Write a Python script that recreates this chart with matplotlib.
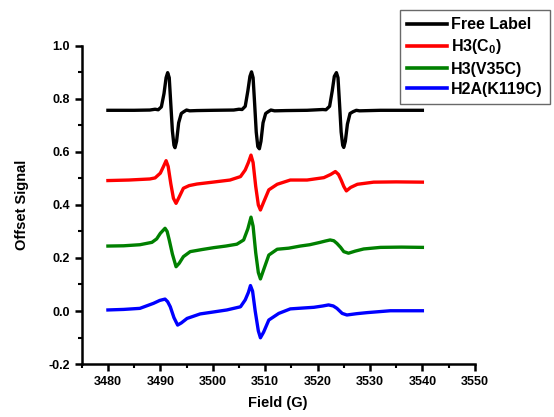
import matplotlib

matplotlib.use("Agg")
import matplotlib.pyplot as plt
from matplotlib.ticker import MultipleLocator

plt.rcParams["font.family"] = ["Liberation Sans", "DejaVu Sans"]
plt.rcParams["font.weight"] = "bold"
plt.rcParams["axes.unicode_minus"] = False
plt.rcParams["mathtext.fontset"] = "custom"
plt.rcParams["mathtext.bf"] = "Liberation Sans:bold"
plt.rcParams["mathtext.rm"] = "Liberation Sans:bold"
plt.rcParams["mathtext.default"] = "bf"

# values
free_field = [3480.0, 3485.0, 3488.0, 3489.0, 3489.6, 3490.2, 3490.7, 3491.1, 3491.4, 3491.7,
              3492.0, 3492.3, 3492.6, 3492.8, 3493.1, 3493.5, 3494.0, 3494.5, 3495.0, 3495.6,
              3497.0, 3500.0, 3504.0, 3505.0, 3505.6, 3506.2, 3506.7, 3507.1, 3507.4, 3507.7,
              3508.0, 3508.3, 3508.6, 3508.9, 3509.2, 3509.6, 3510.1, 3510.6, 3511.1, 3511.8,
              3514.0, 3518.0, 3521.0, 3521.6, 3522.3, 3522.8, 3523.2, 3523.6, 3523.9, 3524.2,
              3524.5, 3524.8, 3525.0, 3525.3, 3525.7, 3526.2, 3526.8, 3527.4, 3528.0, 3532.0,
              3540.0]
free_signal = [0.757, 0.757, 0.758, 0.761, 0.759, 0.770, 0.820, 0.880, 0.899, 0.880,
               0.780, 0.680, 0.625, 0.616, 0.640, 0.710, 0.745, 0.752, 0.758, 0.755,
               0.756, 0.757, 0.758, 0.761, 0.760, 0.772, 0.830, 0.885, 0.902, 0.880,
               0.780, 0.675, 0.620, 0.612, 0.640, 0.710, 0.745, 0.752, 0.758, 0.755,
               0.756, 0.757, 0.760, 0.759, 0.772, 0.830, 0.885, 0.899, 0.880, 0.780,
               0.675, 0.625, 0.617, 0.640, 0.705, 0.745, 0.752, 0.757, 0.755, 0.757,
               0.757]

c0_field = [3480.0, 3484.0, 3488.0, 3489.0, 3490.0, 3490.6, 3491.1, 3491.5, 3492.0, 3492.5,
            3493.0, 3493.6, 3494.4, 3495.5, 3497.0, 3500.0, 3503.3, 3505.3, 3506.2, 3506.8,
            3507.3, 3507.7, 3508.2, 3508.7, 3509.1, 3509.7, 3510.7, 3512.3, 3514.8, 3518.0,
            3521.2, 3522.5, 3523.4, 3524.0, 3524.5, 3525.0, 3525.5, 3526.3, 3527.6, 3530.7,
            3535.0, 3540.0]
c0_signal = [0.492, 0.494, 0.498, 0.502, 0.520, 0.545, 0.567, 0.545, 0.480, 0.425,
             0.406, 0.430, 0.463, 0.473, 0.479, 0.486, 0.494, 0.507, 0.532, 0.560,
             0.588, 0.560, 0.470, 0.400, 0.381, 0.410, 0.457, 0.478, 0.494, 0.494,
             0.503, 0.515, 0.526, 0.515, 0.494, 0.470, 0.453, 0.466, 0.478, 0.486,
             0.487, 0.486]

v35c_field = [3480.0, 3483.0, 3486.1, 3488.4, 3489.3, 3490.0, 3490.9, 3491.3, 3491.7, 3492.3,
              3493.0, 3493.6, 3494.4, 3495.7, 3498.0, 3500.2, 3502.5, 3504.6, 3505.9, 3506.7,
              3507.3, 3507.7, 3508.2, 3508.7, 3509.1, 3509.7, 3510.7, 3512.3, 3514.5, 3516.7,
              3518.5, 3520.5, 3521.5, 3522.4, 3523.1, 3523.7, 3524.4, 3525.0, 3525.9, 3527.2,
              3528.8, 3532.0, 3536.0, 3540.0]
v35c_signal = [0.245, 0.246, 0.250, 0.259, 0.272, 0.293, 0.312, 0.300, 0.268, 0.215,
               0.167, 0.180, 0.205, 0.224, 0.232, 0.239, 0.245, 0.252, 0.268, 0.310,
               0.354, 0.320, 0.220, 0.145, 0.121, 0.155, 0.211, 0.233, 0.237, 0.245,
               0.250, 0.259, 0.264, 0.268, 0.265, 0.255, 0.240, 0.224, 0.218, 0.226,
               0.234, 0.240, 0.241, 0.240]

k119c_field = [3480.0, 3483.0, 3486.1, 3488.7, 3489.9, 3490.9, 3491.4, 3491.9, 3492.6, 3493.3,
               3494.0, 3495.1, 3497.6, 3500.0, 3502.7, 3505.3, 3506.2, 3506.8, 3507.2, 3507.6,
               3508.1, 3508.7, 3509.1, 3509.7, 3510.7, 3512.6, 3514.8, 3517.0, 3519.3, 3521.0,
               3522.1, 3523.0, 3523.7, 3524.7, 3525.6, 3527.5, 3529.5, 3533.9, 3537.0, 3540.0]
k119c_signal = [0.004, 0.006, 0.010, 0.029, 0.040, 0.045, 0.035, 0.016, -0.025, -0.053,
                -0.045, -0.028, -0.011, -0.004, 0.004, 0.016, 0.042, 0.070, 0.096, 0.075,
                0.000, -0.075, -0.101, -0.080, -0.034, -0.009, 0.008, 0.011, 0.014, 0.019,
                0.023, 0.019, 0.010, -0.009, -0.015, -0.010, -0.006, 0.001, 0.001, 0.001]

series_labels = ["Free Label", "H3(C$_{0}$)", "H3(V35C)", "H2A(K119C)"]
series_colors = ["black", "red", "green", "blue"]

fig = plt.figure(figsize=(5.54, 4.17), dpi=100)
ax = fig.add_axes([0.1475, 0.127, 0.7095, 0.763])

for field, signal, label, color in zip(
    [free_field, c0_field, v35c_field, k119c_field],
    [free_signal, c0_signal, v35c_signal, k119c_signal],
    series_labels,
    series_colors,
):
    ax.plot(field, signal, color=color, linewidth=2.4, label=label)

ax.set_xlim(3475, 3550)
ax.set_ylim(-0.2, 1.0)
ax.set_xticks(range(3480, 3551, 10))
ax.xaxis.set_minor_locator(MultipleLocator(5))
ax.yaxis.set_major_locator(MultipleLocator(0.2))
ax.yaxis.set_minor_locator(MultipleLocator(0.1))
ax.yaxis.set_major_formatter(plt.FormatStrFormatter("%.1f"))
ax.spines["top"].set_visible(False)
ax.spines["right"].set_visible(False)
ax.spines["left"].set_linewidth(1.8)
ax.spines["bottom"].set_linewidth(1.8)
ax.tick_params(which="major", length=5, width=1.8, labelsize=9, direction="out")
ax.tick_params(which="minor", length=3, width=1.5, direction="out")
for lbl in ax.get_xticklabels() + ax.get_yticklabels():
    lbl.set_fontweight("bold")

ax.set_xlabel("Field (G)", fontsize=10.5, fontweight="bold", labelpad=6)
ax.set_ylabel("Offset Signal", fontsize=10.5, fontweight="bold", labelpad=14)

legend = fig.legend(
    loc="upper right",
    bbox_to_anchor=(0.992, 0.976),
    frameon=True,
    fancybox=False,
    edgecolor="#444444",
    handlelength=2.5,
    borderpad=0.45,
    borderaxespad=0.0,
    labelspacing=0.33,
    handletextpad=0.25,
    prop={"weight": "bold", "size": 11.5},
)
legend.get_frame().set_linewidth(1.0)
for line in legend.get_lines():
    line.set_linewidth(2.6)

fig.savefig("out.png", dpi=100)
plt.close(fig)
